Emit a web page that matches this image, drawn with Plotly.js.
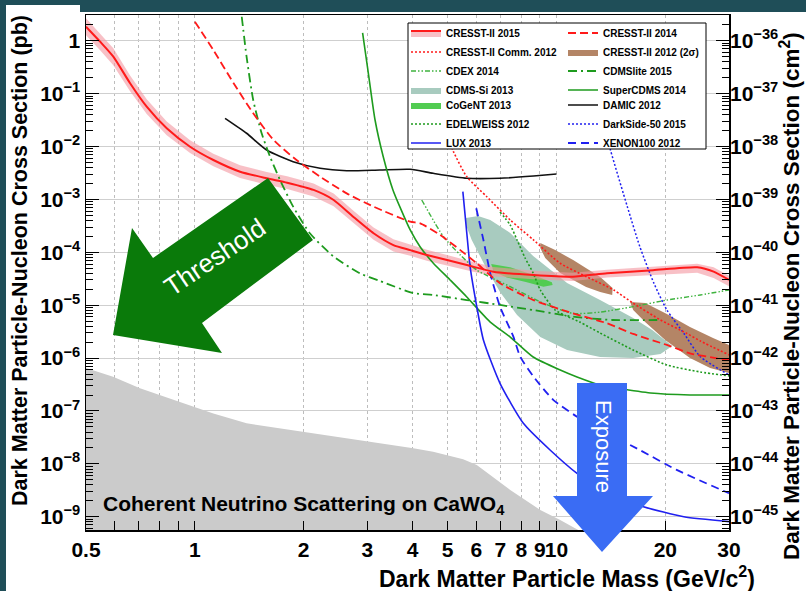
<!DOCTYPE html>
<html>
<head>
<meta charset="utf-8">
<script src="https://cdn.plot.ly/plotly-3.0.1.min.js"></script>
<style>
html,body{margin:0;padding:0;background:#ffffff;}
#chart{width:806px;height:591px;}
</style>
</head>
<body>
<div id="chart"></div>
<script>
// ---------------- DATA (mass in GeV/c^2, cross section in pb) ----------------
const c15_x = [0.5,0.547,0.595,0.662,0.736,0.836,0.970,1.125,1.334,1.58,1.80,2.13,2.42,2.74,3.12,3.54,3.94,4.38,5.65,6.69,8.64,11.1,13.8,18.5,24.5,27.2,30];
const c15_y = [1.84,0.96,0.50,0.157,0.0565,0.0221,0.0099,0.00556,0.00334,0.00251,0.00207,0.00151,9.75e-4,4.71e-4,2.29e-4,1.37e-4,1.10e-4,8.9e-5,5.75e-5,4.3e-5,3.72e-5,3.46e-5,4.0e-5,4.6e-5,5.2e-5,4.3e-5,3.0e-5];
const c15_up = [2.66,1.38,0.72,0.221,0.078,0.0298,0.0131,0.00733,0.0044,0.0033,0.00273,0.00199,0.00129,6.2e-4,2.94e-4,1.77e-4,1.39e-4,1.12e-4,7.1e-5,5.3e-5,4.5e-5,4.1e-5,4.7e-5,5.4e-5,6.1e-5,5.2e-5,3.6e-5];
const c15_lo = [1.27,0.66,0.345,0.111,0.041,0.0164,0.0075,0.00422,0.00254,0.0019,0.00157,0.00114,7.4e-4,3.57e-4,1.73e-4,1.04e-4,8.6e-5,6.9e-5,4.6e-5,3.5e-5,3.1e-5,2.88e-5,3.33e-5,3.76e-5,4.1e-5,3.26e-5,2.27e-5];

const c14_x = [1.00,1.125,1.28,1.45,1.65,1.91,2.22,2.63,3.12,3.94,4.2,4.77,5.42,6.02,6.98,8.64,11.1,13.8,16.3,20.2,23.4,27.8,30];
const c14_y = [2.29,0.667,0.157,0.0425,0.0133,0.00556,0.00269,0.0013,7.3e-4,3.79e-4,3.53e-4,2.12e-4,1.1e-4,6.2e-5,2.6e-5,1.25e-5,7.0e-6,4.55e-6,2.86e-6,1.77e-6,1.23e-6,9.9e-7,9.2e-7];

const cc12_x = [4.86,5.19,5.65,6.42,7.45,8.64,10.24,12.1,14.4,16.3,19.4,22.9,25.0,30];
const cc12_y = [0.0255,0.00798,0.00269,0.00112,4.08e-4,1.71e-4,6.2e-5,3.46e-5,1.94e-5,1.09e-5,5.25e-6,2.94e-6,2.1e-6,1.15e-6];

const c12a_x = [9.02,9.92,11.12,13.21,14.3,14.26,13.21,12.08,10.24,9.31,9.02];
const c12a_y = [1.5e-4,1.1e-4,7.15e-5,3.41e-5,2.11e-5,1.56e-5,1.78e-5,2.21e-5,4.07e-5,7.8e-5,1.2e-4];
const c12b_x = [15.99,17.59,20.2,23.4,27.1,30,30,26.6,23.4,19.98,17.59,16.3];
const c12b_y = [1.15e-5,1.1e-5,6.8e-6,3.87e-6,2.4e-6,1.77e-6,5.2e-7,6.5e-7,1.0e-6,2.2e-6,4.8e-6,8.1e-6];

const cdex_x = [4.24,4.87,5.42,6.02,7.45,9.2,11.1,13.2,16.3,20.2,25.0,30];
const cdex_y = [9.75e-4,1.97e-4,8.9e-5,4.62e-5,2.24e-5,1.09e-5,7.0e-6,7.4e-6,9.4e-6,1.25e-5,1.56e-5,1.94e-5];

const cdl_x = [1.348,1.39,1.45,1.53,1.614,1.72,1.87,2.08,2.42,2.86,3.25,4.01,4.56,5.65,6.98,8.62,11.1,14.3,19.0];
const cdl_y = [2.84,0.499,0.0757,0.0178,0.00641,0.00233,7.3e-4,2.29e-4,8.3e-5,4.0e-5,2.87e-5,1.70e-5,1.56e-5,1.25e-5,1.01e-5,8.1e-6,6.07e-6,5.25e-6,5.25e-6];

const cdmssi_x = [5.62,6.07,6.56,7.45,8.62,10.7,13.2,16.3,18.4,20.9,19.4,16.3,13.2,10.7,9.02,7.78,6.98,6.37,5.83,5.62];
const cdmssi_y = [4.45e-4,4.85e-4,4.08e-4,2.32e-4,8.5e-5,2.63e-5,1.25e-5,5.7e-6,3.4e-6,1.69e-6,1.2e-6,1.0e-6,1.05e-6,1.42e-6,2.5e-6,6.5e-6,1.78e-5,5.3e-5,1.71e-4,3.28e-4];

const scdms_x = [2.91,3.01,3.15,3.32,3.53,3.70,3.94,4.20,4.56,5.08,5.65,6.56,7.45,8.62,10.24,11.4,13.2,14.7,18.2,23.4,30];
const scdms_y = [1.40,0.279,0.0317,0.00634,0.00151,6.9e-4,2.64e-4,1.26e-4,6.3e-5,3.0e-5,1.43e-5,4.8e-6,2.5e-6,1.05e-6,5.96e-7,4.4e-7,3.1e-7,2.72e-7,2.19e-7,2.01e-7,2.01e-7];

const cogent_x = [6.6,7.45,8.64,9.71,9.76,9.2,8.28,7.29,6.7];
const cogent_y = [6.0e-5,5.2e-5,3.72e-5,2.72e-5,2.42e-5,2.24e-5,2.72e-5,3.33e-5,4.3e-5];

const damic_x = [1.212,1.39,1.58,1.87,2.22,2.63,3.25,3.94,4.56,5.65,6.98,8.64,10.0];
const damic_y = [0.0341,0.0178,0.0086,0.00516,0.00387,0.00349,0.0036,0.00371,0.00311,0.00251,0.00251,0.00277,0.00302];

const edw_x = [6.98,7.45,7.78,8.19,8.62,9.02,9.92,11.6,13.2,16.3,20.2,25.0,30];
const edw_y = [5.78e-4,3.28e-4,1.71e-4,7.8e-5,4.06e-5,1.94e-5,8.1e-6,4.8e-6,2.98e-6,1.42e-6,7.4e-7,5.46e-7,4.6e-7];

const ds50_x = [13.2,14.1,15.7,17.0,18.6,20.2,22.5,25.0,30];
const ds50_y = [0.049,0.0086,7.3e-4,1.28e-4,2.6e-5,8.1e-6,2.94e-6,1.06e-6,4.8e-7];

const lux_x = [5.51,5.65,5.77,6.02,6.28,6.98,8.1,9.6,11.4,13.8,17.4,22.5,30];
const lux_y = [1.4e-3,2.29e-4,5.35e-5,9.4e-6,2.2e-6,3.34e-7,5.85e-8,1.83e-8,6.6e-9,2.78e-9,1.55e-9,1.0e-9,8.1e-10];

const xe_x = [6.0,6.28,6.56,6.98,7.6,7.94,8.64,9.81,11.4,13.8,17.0,21.5,30];
const xe_y = [6.8e-4,1.71e-4,4.0e-5,9.4e-6,2.54e-6,1.06e-6,4.45e-7,1.61e-7,7.8e-8,3.79e-8,1.83e-8,7.7e-9,2.78e-9];

const nu_x = [0.5,0.594,0.705,0.801,1.001,1.125,1.39,1.996,2.99,4.02,4.56,5.52,6.02,7.45,9.02,10.24,11.5];
const nu_y = [6.5e-7,4.45e-7,2.69e-7,2.0e-7,1.2e-7,9.0e-8,5.85e-8,4.06e-8,2.63e-8,1.97e-8,1.7e-8,1.22e-8,9.5e-9,3.21e-9,1.35e-9,8.7e-10,5.6e-10];
const nu_base_x = [11.5, 0.5];
const nu_base_y = [1e-10, 1e-10];

// axis ticks
const x_tickvals = [0.5,1,2,3,4,5,6,7,8,9,10,20,30];
const x_ticktext = ['0.5','1','2','3','4','5','6','7','8','9','10','20','30'];
const x_minorvals = [0.6,0.7,0.8,0.9];
const y_exps = [-9,-8,-7,-6,-5,-4,-3,-2,-1,0];
const y2_exps = [-45,-44,-43,-42,-41,-40,-39,-38,-37,-36];

// ---------------- STYLE ----------------
const FONT = 'Liberation Sans, Arial, Helvetica, sans-serif';
const RED = '#ff1a1a', GREEN = '#1e9b1e', LGREEN = '#3fb33f', BLUE = '#2020f0';

function lineTrace(name, x, y, color, width, dash, legend, rank) {
  return {type:'scatter', mode:'lines', name:name, x:x, y:y,
    line:{color:color, width:width, dash:dash, shape:'spline', smoothing:0.6},
    legend:legend, legendrank:rank, hoverinfo:'skip'};
}
function areaTrace(name, x, y, color, legend, rank, show) {
  return {type:'scatter', mode:'lines', name:name, x:x, y:y, fill:'toself',
    fillcolor:color, line:{width:0, color:color}, legend:legend, legendrank:rank,
    showlegend:show, hoverinfo:'skip'};
}

const traces = [];
traces.push(areaTrace('Coherent neutrino scattering', nu_x.concat(nu_base_x), nu_y.concat(nu_base_y), '#cbcbcb', 'legend', 99, false));
traces.push(areaTrace('CDMS-Si 2013', cdmssi_x, cdmssi_y, '#a8cbbf', 'legend', 4, true));
traces.push(areaTrace('CoGeNT 2013', cogent_x, cogent_y, '#52cc52', 'legend3', 5, true));
traces.push(areaTrace('CRESST-II 2012 (2σ)', c12a_x.concat([null], c12b_x), c12a_y.concat([null], c12b_y), '#b48566', 'legend2', 2, true));
traces.push(areaTrace('CRESST-II 2015 band', c15_x.concat(c15_x.slice().reverse()), c15_up.concat(c15_lo.slice().reverse()), 'rgba(244,150,160,0.6)', 'legend', 98, false));
traces.push(lineTrace('DAMIC 2012', damic_x, damic_y, '#111111', 1.6, 'solid', 'legend4', 5));
traces.push(lineTrace('SuperCDMS 2014', scdms_x, scdms_y, GREEN, 1.6, 'solid', 'legend2', 4));
traces.push(lineTrace('CDMSlite 2015', cdl_x, cdl_y, GREEN, 1.8, '9px,4px,2px,4px', 'legend2', 3));
traces.push(lineTrace('CDEX 2014', cdex_x, cdex_y, LGREEN, 1.4, '5px,2px,1.5px,2px,1.5px,2px', 'legend', 3));
traces.push(lineTrace('EDELWEISS 2012', edw_x, edw_y, GREEN, 1.6, '2px,2px', 'legend3', 6));
traces.push(lineTrace('DarkSide-50 2015', ds50_x, ds50_y, BLUE, 1.5, '2px,2px', 'legend4', 6));
traces.push(lineTrace('LUX 2013', lux_x, lux_y, BLUE, 1.6, 'solid', 'legend3', 7));
traces.push(lineTrace('XENON100 2012', xe_x, xe_y, BLUE, 1.8, '8px,5px', 'legend4', 7));
traces.push(lineTrace('CRESST-II Comm. 2012', cc12_x, cc12_y, RED, 1.6, '2px,2px', 'legend', 2));
traces.push(lineTrace('CRESST-II 2014', c14_x, c14_y, RED, 1.8, '8px,4px', 'legend2', 1));
const c15line = lineTrace('CRESST-II 2015', c15_x, c15_y, RED, 2, 'solid', 'legend', 1);
c15line.showlegend = false;
traces.push(c15line);
traces.push({type:'scatter', mode:'lines', name:'CRESST-II 2015', x:[null], y:[null], fill:'toself',
  fillcolor:'rgba(244,150,160,0.6)', line:{color:RED, width:2}, legend:'legend', legendrank:1, hoverinfo:'skip'});
traces.push({type:'scatter', mode:'lines', x:[null], y:[null], yaxis:'y2', showlegend:false, hoverinfo:'skip'});

// ---------------- AXES ----------------
const y_tickvals = y_exps.map(e => Math.pow(10, e));
const y_ticktext = y_exps.map(e => e === 0 ? '1' : '10<sup>−' + (-e) + '</sup>');
const y2_tickvals = y2_exps.map(e => Math.pow(10, e));
const y2_ticktext = y2_exps.map(e => '10<sup>−' + (-e) + '</sup>');
const y_minor = [], y2_minor = [];
for (let e = -10; e <= 0; e++) for (let m = 2; m <= 9; m++) y_minor.push(m * Math.pow(10, e));
for (let e = -46; e <= -36; e++) for (let m = 2; m <= 9; m++) y2_minor.push(m * Math.pow(10, e));

const tickFont = {family:FONT, size:21, color:'#000', weight:'bold'};

const L = 86, T = 15, W = 643, H = 515;
const px = v => (v - L) / W;
const py = v => (T + H - v) / H;
function pathFrom(pts) {
  return 'M' + pts.map(p => px(p[0]).toFixed(5) + ',' + py(p[1]).toFixed(5)).join(' L') + ' Z';
}

const thresholdArrow = [[113,335],[132,228],[153,258],[268,178],[313,240],[202,323],[222,353]];
const exposureArrow = [[577,383],[627,383],[627,496],[653,496],[602,552],[553,496],[577,496]];

const legendBase = {xanchor:'left', yanchor:'top', bgcolor:'rgba(0,0,0,0)', borderwidth:0,
  font:{family:FONT, size:10, color:'#000', weight:'bold'}, traceorder:'normal', itemwidth:30, tracegroupgap:0};

const layout = {
  width:806, height:591,
  margin:{l:L, r:806 - L - W, t:T, b:591 - T - H, pad:0},
  paper_bgcolor:'#ffffff', plot_bgcolor:'#ffffff',
  showlegend:true,
  xaxis:{type:'log', range:[Math.log10(0.5), Math.log10(30)], tickmode:'array',
    tickvals:x_tickvals, ticktext:x_ticktext, tickangle:0, ticks:'inside', ticklen:9, tickwidth:1,
    tickcolor:'#000', showline:true, linecolor:'#000', linewidth:1.5, mirror:true,
    minor:{tickmode:'array', tickvals:x_minorvals, ticks:'inside', ticklen:9, tickwidth:1, tickcolor:'#000',
      showgrid:true, gridcolor:'#bdbdbd', griddash:'dot', gridwidth:1},
    showgrid:true, gridcolor:'#bdbdbd', griddash:'dot', gridwidth:1, zeroline:false,
    tickfont:tickFont, automargin:false, fixedrange:true},
  yaxis:{type:'log', range:[-9.25, 0.486], tickmode:'array', tickvals:y_tickvals, ticktext:y_ticktext,
    ticks:'inside', ticklen:13, tickwidth:1, tickcolor:'#000',
    minor:{tickmode:'array', tickvals:y_minor, ticks:'inside', ticklen:7, tickwidth:1, tickcolor:'#000', showgrid:false},
    showline:true, linecolor:'#000', linewidth:1.5, mirror:true,
    showgrid:true, gridcolor:'#cfcfcf', gridwidth:1, zeroline:false,
    tickfont:tickFont, automargin:false, fixedrange:true},
  yaxis2:{type:'log', overlaying:'y', side:'right', anchor:'x', range:[-45.25, -35.514], tickmode:'array',
    tickvals:y2_tickvals, ticktext:y2_ticktext, ticks:'inside', ticklen:13, tickwidth:1, tickcolor:'#000',
    minor:{tickmode:'array', tickvals:y2_minor, ticks:'inside', ticklen:7, tickwidth:1, tickcolor:'#000', showgrid:false},
    showline:false, showgrid:false, zeroline:false, tickfont:tickFont, automargin:false, fixedrange:true},
  legend:Object.assign({}, legendBase, {x:px(406), y:py(18.5)}),
  legend2:Object.assign({}, legendBase, {x:px(563), y:py(18.5)}),
  legend3:Object.assign({}, legendBase, {x:px(406), y:py(90.5)}),
  legend4:Object.assign({}, legendBase, {x:px(563), y:py(90.5)}),
  shapes:[
    {type:'rect', xref:'paper', yref:'paper', x0:px(408), x1:px(706), y0:py(149), y1:py(23),
      fillcolor:'#ffffff', line:{color:'#000', width:1}, layer:'above'},
    {type:'path', xref:'paper', yref:'paper', path:pathFrom(thresholdArrow), fillcolor:'#0a7a0a', line:{width:0}, layer:'above'},
    {type:'path', xref:'paper', yref:'paper', path:pathFrom(exposureArrow), fillcolor:'#3a6cf4', line:{width:0}, layer:'above'},
    {type:'rect', xref:'paper', yref:'paper', x0:px(0), x1:px(6), y0:py(591), y1:py(0), fillcolor:'#1f4e58', line:{width:0}, layer:'above'},
    {type:'rect', xref:'paper', yref:'paper', x0:px(0), x1:px(80), y0:py(5), y1:py(0), fillcolor:'#1f4e58', line:{width:0}, layer:'above'},
    {type:'rect', xref:'paper', yref:'paper', x0:px(80), x1:px(806), y0:py(12), y1:py(0), fillcolor:'#1f4e58', line:{width:0}, layer:'above'}
  ],
  annotations:[
    {xref:'paper', yref:'paper', x:px(215), y:py(257), text:'Threshold', showarrow:false, textangle:-34,
      font:{family:FONT, size:26, color:'#ffffff'}, xanchor:'center', yanchor:'middle'},
    {xref:'paper', yref:'paper', x:px(603), y:py(446), text:'Exposure', showarrow:false, textangle:90,
      font:{family:FONT, size:22, color:'#ffffff'}, xanchor:'center', yanchor:'middle'},
    {xref:'paper', yref:'paper', x:px(101), y:py(505), text:'Coherent Neutrino Scattering on CaWO<sub>4</sub>', showarrow:false,
      font:{family:FONT, size:21, color:'#000', weight:'bold'}, xanchor:'left', yanchor:'middle'},
    {xref:'paper', yref:'paper', x:px(757), y:py(577), text:'Dark Matter Particle Mass (GeV/c<sup>2</sup>)', showarrow:false,
      font:{family:FONT, size:23, color:'#000', weight:'bold'}, xanchor:'right', yanchor:'middle'},
    {xref:'paper', yref:'paper', x:px(20), y:py(261), text:'Dark Matter Particle-Nucleon Cross Section (pb)', showarrow:false, textangle:-90,
      font:{family:FONT, size:21.5, color:'#000', weight:'bold'}, xanchor:'center', yanchor:'middle'},
    {xref:'paper', yref:'paper', x:px(790), y:py(296), text:'Dark Matter Particle-Nucleon Cross Section (cm<sup>2</sup>)', showarrow:false, textangle:-90,
      font:{family:FONT, size:22.5, color:'#000', weight:'bold'}, xanchor:'center', yanchor:'middle'}
  ]
};

Plotly.newPlot('chart', traces, layout, {staticPlot:true, displayModeBar:false});
</script>
</body>
</html>
